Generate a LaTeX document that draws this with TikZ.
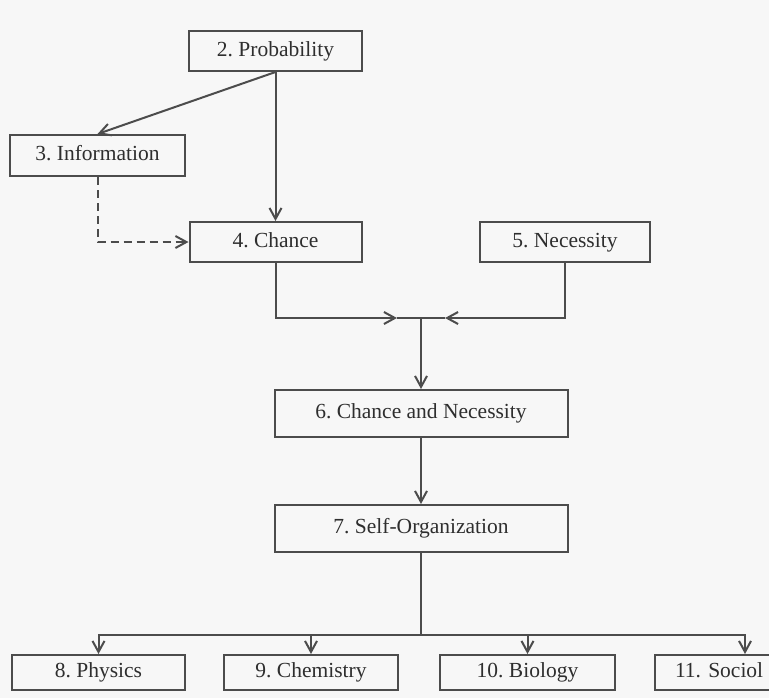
\documentclass[tikz,border=0pt]{standalone}
\usepackage{fontspec}
\setmainfont{Liberation Serif}
\usetikzlibrary{arrows.meta}
\definecolor{bg}{HTML}{F7F7F7}
\definecolor{ink}{HTML}{4C4C4C}
\definecolor{txt}{HTML}{2E2E2E}
\begin{document}
\begin{tikzpicture}[x=0.5pt,y=-0.5pt,
  box/.style={draw=ink, line width=1pt, fill=bg, text=txt, inner sep=0pt,
    text height=7.6pt, text depth=2.4pt,
    font=\frenchspacing\fontsize{10.75pt}{13pt}\selectfont},
  conn/.style={draw=ink, line width=1pt},
  arr/.style={conn, -{Straight Barb[length=5.5pt,width=6pt,line width=1pt]}},
  darr/.style={arr, dash pattern=on 4pt off 2.5pt}]
\fill[bg] (0,0) rectangle (769,698);
\useasboundingbox (0,0) rectangle (769,698);
\clip (0,0) rectangle (769,698);

\node[box, minimum width=173*0.5pt, minimum height=40*0.5pt] (p2) at (275.5,51) {2. Probability};
\node[box, minimum width=175*0.5pt, minimum height=41*0.5pt] (p3) at (97.5,155.5) {3. Information};
\node[box, minimum width=172*0.5pt, minimum height=40*0.5pt] (p4) at (275.5,242) {4. Chance};
\node[box, minimum width=170*0.5pt, minimum height=40*0.5pt] (p5) at (565,242) {5. Necessity};
\node[box, minimum width=293*0.5pt, minimum height=47*0.5pt] (p6) at (421,413.5) {6. Chance and Necessity};
\node[box, minimum width=293*0.5pt, minimum height=47*0.5pt] (p7) at (421,528.5) {7. Self-Organization};
\node[box, minimum width=173*0.5pt, minimum height=35*0.5pt] (p8) at (98.5,672.5) {8. Physics};
\node[box, minimum width=174*0.5pt, minimum height=35*0.5pt] (p9) at (311,672.5) {9. Chemistry};
\node[box, minimum width=175*0.5pt, minimum height=35*0.5pt] (p10) at (527.5,672.5) {10. Biology};
\node[box, minimum width=180*0.5pt, minimum height=35*0.5pt, text width=140*0.5pt,
  inner xsep=20*0.5pt, align=left] (p11) at (745,672.5) {11. Sociol};

\coordinate (m) at (421,318);
\coordinate (ml) at (397,318);
\coordinate (mr) at (445,318);
\coordinate (s) at (421,635);

\draw[arr] (p2.south) -- (p3.north);
\draw[arr] (p2.south) -- (p4.north);
\draw[darr] (p3.south) |- (p4.west);
\draw[arr] (p4.south) |- (ml);
\draw[arr] (p5.south) |- (mr);
\draw[conn] (ml) -- (mr);
\draw[arr] (m) -- (p6.north);
\draw[arr] (p6.south) -- (p7.north);
\draw[conn] (p7.south) -- (s);
\draw[arr] (s) -| (p8.north);
\draw[arr] (s) -| (p9.north);
\draw[arr] (s) -| (p10.north);
\draw[arr] (s) -| (p11.north);
\end{tikzpicture}
\end{document}
